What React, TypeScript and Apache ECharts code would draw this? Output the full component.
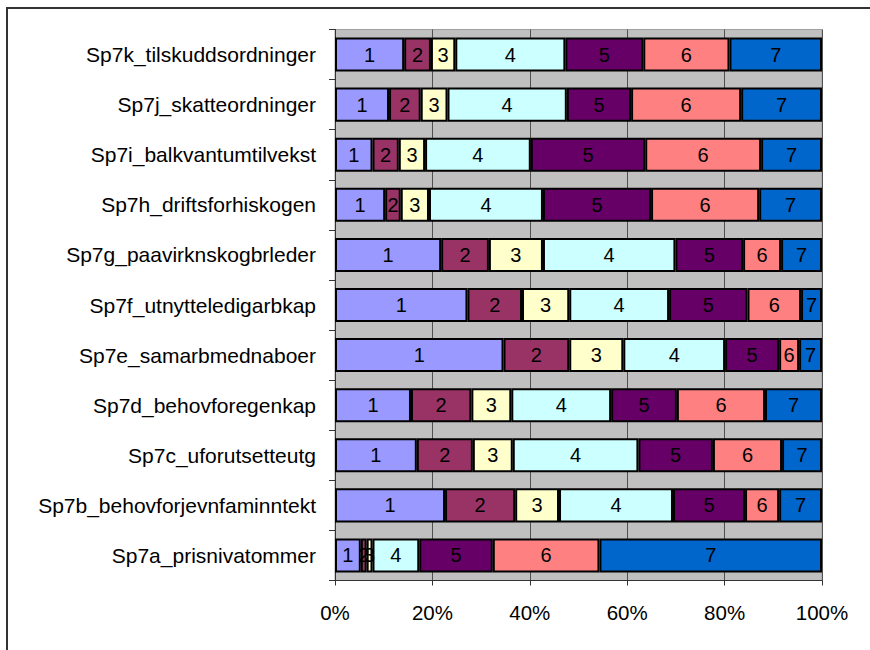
import React, { useEffect, useRef } from "react";
import * as echarts from "echarts";

// Question items, bottom to top on the category axis
const categories = [
  "Sp7a_prisnivatommer",
  "Sp7b_behovforjevnfaminntekt",
  "Sp7c_uforutsetteutg",
  "Sp7d_behovforegenkap",
  "Sp7e_samarbmednaboer",
  "Sp7f_utnytteledigarbkap",
  "Sp7g_paavirknskogbrleder",
  "Sp7h_driftsforhiskogen",
  "Sp7i_balkvantumtilvekst",
  "Sp7j_skatteordninger",
  "Sp7k_tilskuddsordninger",
];

// Share of answers (%) for each response level 1..7, same order as categories
const level1 = [5.3, 22.6, 16.8, 15.6, 34.6, 27.2, 21.8, 10.3, 7.7, 11.1, 14.2];
const level2 = [1.2, 14.4, 11.5, 12.4, 13.5, 11.2, 9.8, 3.2, 5.4, 6.5, 5.5];
const level3 = [1.2, 9.0, 8.2, 8.2, 11.1, 9.7, 11.1, 5.8, 5.4, 5.5, 5.0];
const level4 = [9.6, 23.4, 25.8, 20.5, 20.9, 20.5, 27.2, 23.4, 21.7, 24.5, 22.6];
const level5 = [15.1, 14.8, 15.3, 13.5, 11.1, 16.1, 13.9, 22.2, 23.5, 13.2, 16.0];
const level6 = [21.9, 7.0, 14.2, 18.1, 4.1, 11.0, 7.8, 22.2, 23.8, 22.6, 17.7];
const level7 = [45.7, 8.8, 8.2, 11.7, 4.7, 4.3, 8.4, 12.9, 12.5, 16.6, 19.0];

const levelNames = ["1", "2", "3", "4", "5", "6", "7"];
const levelData = [level1, level2, level3, level4, level5, level6, level7];
const levelColors = ["#9999FF", "#993366", "#FFFFCC", "#CCFFFF", "#660066", "#FF8080", "#0066CC"];

const xTicks = [0, 20, 40, 60, 80, 100];

const FONT = "'Liberation Sans', Arial, sans-serif";

export default function App() {
  const ref = useRef<HTMLDivElement>(null);

  useEffect(() => {
    if (!ref.current) return;
    const chart = echarts.init(ref.current, null, { renderer: "svg" });

    const series = levelNames.map((name, i) => ({
      name,
      type: "bar" as const,
      stack: "total",
      data: levelData[i],
      barCategoryGap: "32%",
      itemStyle: { color: levelColors[i], borderColor: "#000", borderWidth: 2 },
      label: {
        show: true,
        position: "inside" as const,
        formatter: "{a}",
        color: "#000",
        fontSize: 20,
        fontFamily: FONT,
      },
    }));

    chart.setOption({
      animation: false,
      backgroundColor: "#ffffff",
      textStyle: { fontFamily: FONT },
      grid: {
        left: 335,
        right: 48,
        top: 29.5,
        bottom: 69.5,
        show: true,
        backgroundColor: "#C0C0C0",
        borderColor: "#A0A0A0",
        borderWidth: 1,
      },
      xAxis: {
        type: "value",
        min: xTicks[0],
        max: xTicks[xTicks.length - 1],
        interval: 20,
        axisLine: { show: true, lineStyle: { color: "#333", width: 1 } },
        axisTick: { show: true, inside: false, length: 5, lineStyle: { color: "#333" } },
        splitLine: { show: true, lineStyle: { color: "#505050", width: 1 } },
        axisLabel: {
          formatter: "{value}%",
          color: "#000",
          fontSize: 20.5,
          fontFamily: FONT,
          margin: 21,
        },
      },
      yAxis: {
        type: "category",
        data: categories,
        axisLine: { show: true, lineStyle: { color: "#333", width: 1 } },
        axisTick: { show: true, inside: false, length: 6, lineStyle: { color: "#333" } },
        axisLabel: {
          color: "#000",
          fontSize: 21,
          fontFamily: FONT,
          margin: 19,
        },
      },
      graphic: [
        {
          type: "rect",
          shape: { x: 7, y: 8, width: 900, height: 700 },
          style: { fill: "none", stroke: "#333", lineWidth: 2 },
          silent: true,
          z: 100,
        },
      ],
      series,
    });

    return () => chart.dispose();
  }, []);

  return (
    <div
      ref={ref}
      style={{ position: "fixed", left: 0, top: 0, width: 870, height: 650 }}
    />
  );
}
